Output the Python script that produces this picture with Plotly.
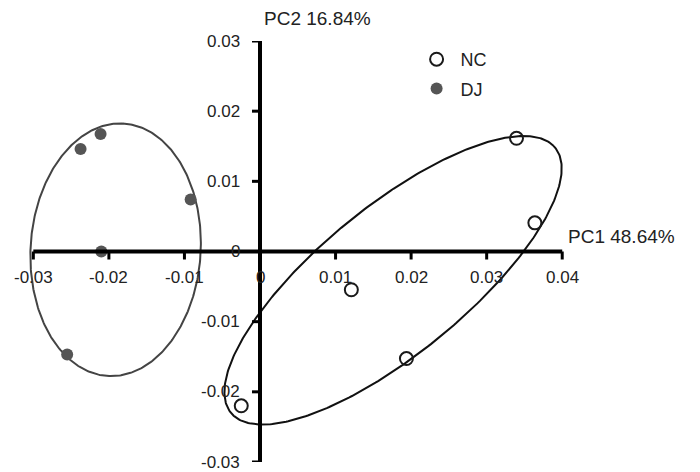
import numpy as np
import plotly.graph_objects as go

# ---- data ----
nc_x = [0.03395, 0.03638, 0.01209, 0.01938, -0.00248]
nc_y = [0.01613, 0.00408, -0.00545, -0.01526, -0.02199]
dj_x = [-0.02375, -0.02110, -0.00918, -0.02100, -0.02552]
dj_y = [0.01461, 0.01674, 0.00740, 0.00000, -0.01469]

# confidence ellipses: center x, center y, semi-major, semi-minor, angle (deg)
nc_ellipse = [0.01761, -0.00410, 0.02860, 0.01015, 41.97]
dj_ellipse = [-0.01911, 0.00025, 0.01802, 0.01126, 87.0]

x_ticks = [-0.03, -0.02, -0.01, 0.0, 0.01, 0.02, 0.03, 0.04]
x_tick_labels = ["-0.03", "-0.02", "-0.01", "0", "0.01", "0.02", "0.03", "0.04"]
y_ticks = [-0.03, -0.02, -0.01, 0.0, 0.01, 0.02, 0.03]
y_tick_labels = ["-0.03", "-0.02", "-0.01", "0", "0.01", "0.02", "0.03"]

x_title = "PC1 48.64%"
y_title = "PC2 16.84%"

FONT = "Liberation Sans, Arial, Helvetica, sans-serif"


def ellipse_xy(p, n=400):
    cx, cy, a, b, ang = p
    t = np.linspace(0, 2 * np.pi, n)
    th = np.radians(ang)
    x = cx + a * np.cos(th) * np.cos(t) - b * np.sin(th) * np.sin(t)
    y = cy + a * np.sin(th) * np.cos(t) + b * np.cos(th) * np.sin(t)
    return x, y


fig = go.Figure()

ex, ey = ellipse_xy(nc_ellipse)
fig.add_trace(go.Scatter(x=ex, y=ey, mode="lines", line=dict(color="#111111", width=2),
                         showlegend=False, hoverinfo="skip"))
ex, ey = ellipse_xy(dj_ellipse)
fig.add_trace(go.Scatter(x=ex, y=ey, mode="lines", line=dict(color="#444444", width=2),
                         showlegend=False, hoverinfo="skip"))

fig.add_trace(go.Scatter(x=nc_x, y=nc_y, mode="markers", name="NC", cliponaxis=False,
                         legendgroup="nc",
                         marker=dict(symbol="circle-open", size=13, color="#1a1a1a",
                                     line=dict(width=2, color="#1a1a1a"))))
fig.add_trace(go.Scatter(x=dj_x, y=dj_y, mode="markers", name="DJ", cliponaxis=False,
                         legendgroup="dj",
                         marker=dict(symbol="circle", size=12, color="#555555")))

shapes = [
    dict(type="line", xref="x", yref="y", x0=x_ticks[0], x1=x_ticks[-1], y0=0, y1=0,
         line=dict(color="black", width=4)),
    dict(type="line", xref="x", yref="y", x0=0, x1=0, y0=y_ticks[0], y1=y_ticks[-1],
         line=dict(color="black", width=4)),
]
for t in x_ticks:
    shapes.append(dict(type="line", xref="x", yref="y", ysizemode="pixel", yanchor=0,
                       x0=t, x1=t, y0=0, y1=-8, line=dict(color="black", width=3)))
for t in y_ticks:
    shapes.append(dict(type="line", xref="x", yref="y", xsizemode="pixel", xanchor=0,
                       x0=-8, x1=0, y0=t, y1=t, line=dict(color="black", width=3)))

annotations = []
for t, lab in zip(x_ticks, x_tick_labels):
    annotations.append(dict(x=t, y=0, xref="x", yref="y", text=lab, showarrow=False,
                            xanchor="center", yanchor="middle", yshift=-26,
                            font=dict(family=FONT, size=17, color="#222")))
for t, lab in zip(y_ticks, y_tick_labels):
    annotations.append(dict(x=0, y=t, xref="x", yref="y", text=lab, showarrow=False,
                            xanchor="right", yanchor="middle", xshift=-18,
                            font=dict(family=FONT, size=17, color="#222")))
annotations.append(dict(x=x_ticks[-1], y=0, xref="x", yref="y", text=x_title, showarrow=False,
                        xanchor="left", yanchor="middle", xshift=4, yshift=15,
                        font=dict(family=FONT, size=19, color="#222")))
annotations.append(dict(x=0, y=y_ticks[-1], xref="x", yref="y", text=y_title, showarrow=False,
                        xanchor="left", yanchor="middle", xshift=2, yshift=23,
                        font=dict(family=FONT, size=19, color="#222")))

fig.update_layout(
    width=692, height=464,
    margin=dict(l=14, r=134, t=33, b=10),
    plot_bgcolor="white", paper_bgcolor="white",
    xaxis=dict(range=[-0.0315, 0.0405], visible=False, fixedrange=True),
    yaxis=dict(range=[-0.03, 0.03], visible=False, fixedrange=True),
    shapes=shapes, annotations=annotations,
    showlegend=True,
    legend=dict(x=0.718, y=1.0, xanchor="left", yanchor="top",
                font=dict(family=FONT, size=18, color="#222"),
                itemwidth=38, bgcolor="rgba(0,0,0,0)", tracegroupgap=3),
)
fig.write_html("out.html")
